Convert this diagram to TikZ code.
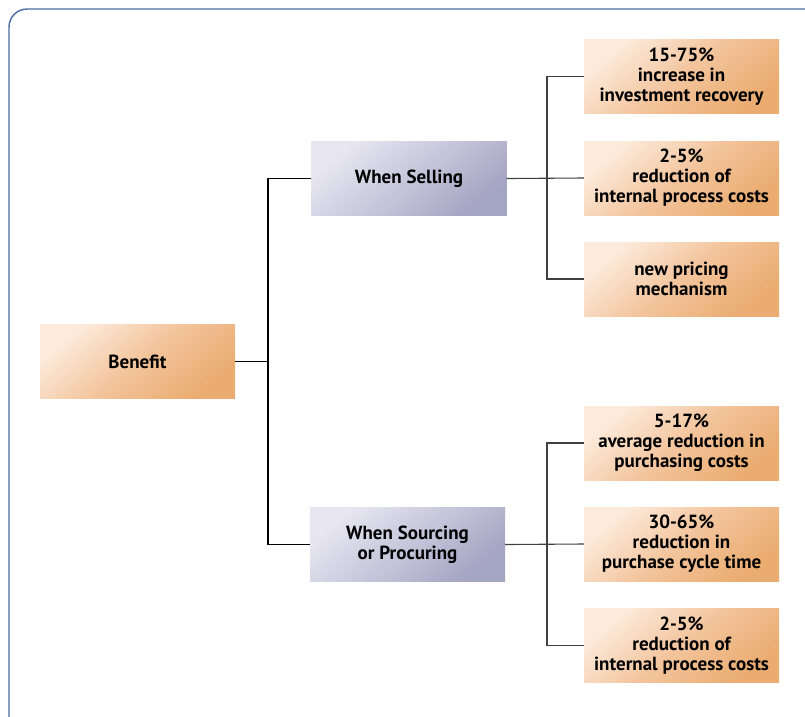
\documentclass[tikz,border=0pt]{standalone}
\usepackage{fontspec}
\setmainfont{PT Sans}
\definecolor{orA}{HTML}{FCEBDC}
\definecolor{orB}{HTML}{F3C49C}
\definecolor{orC}{HTML}{EAAC70}
\definecolor{blA}{HTML}{E8E6F1}
\definecolor{blB}{HTML}{C6C6DB}
\definecolor{blC}{HTML}{A4A4C3}
\definecolor{frame}{HTML}{4C6BA2}
\begin{document}
\begin{tikzpicture}[x=1pt,y=-1pt,
  box/.style={minimum width=195pt,minimum height=74pt,inner sep=2pt,align=center,
    font=\bfseries\fontsize{19}{20}\selectfont,text=black},
  orbox/.style={box,top color=orA,bottom color=orC,middle color=orB,shading angle=40},
  blbox/.style={box,top color=blA,bottom color=blC,middle color=blB,shading angle=40},
  link/.style={draw=black,line width=1.1pt},
  glink/.style={draw=black!75,line width=1.1pt}]
\useasboundingbox (0,0) rectangle (805,716);
\begin{scope}
\clip (0,0) rectangle (805,716);
\draw[frame,line width=1.4pt,rounded corners=18pt] (9,9) rectangle (830,740);
\end{scope}
\node[orbox] (ben) at (137.5,361.5) {Benefit};
\node[blbox] (sel) at (409,178.5) {When Selling};
\node[blbox] (src) at (407.5,544.5) {When Sourcing\\or Procuring};
\node[orbox] (r1) at (681.5,76.5) {15-75\%\\increase in\\investment recovery};
\node[orbox] (r2) at (681.5,178) {2-5\%\\reduction of\\internal process costs};
\node[orbox] (r3) at (681.5,279) {new pricing\\mechanism};
\node[orbox] (r4) at (681.5,443) {5-17\%\\average reduction in\\purchasing costs};
\node[orbox] (r5) at (681.5,544) {30-65\%\\reduction in\\purchase cycle time};
\node[orbox] (r6) at (681.5,645.5) {2-5\%\\reduction of\\internal process costs};
\coordinate (j0) at (268,361.5);
\draw[link] (ben.east) -- (j0);
\draw[link] (sel.west) -| (j0);
\draw[link] (src.west) -| (j0);
\coordinate (j1) at (547,178);
\draw[glink] (sel.east) -- (r2.west);
\draw[glink] (r1.west) -| (j1);
\draw[glink] (r3.west) -| (j1);
\coordinate (j2) at (547,544);
\draw[glink] (src.east) -- (r5.west);
\draw[glink] (r4.west) -| (j2);
\draw[glink] (r6.west) -| (j2);
\end{tikzpicture}
\end{document}
